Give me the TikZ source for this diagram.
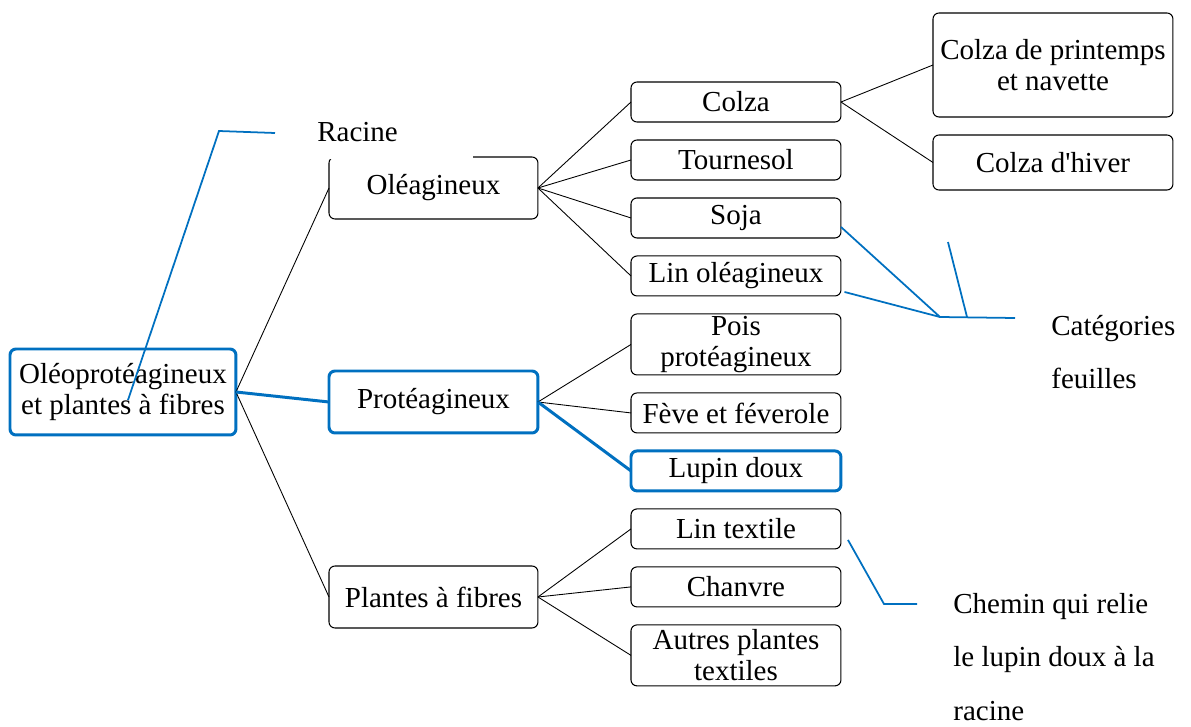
\documentclass[tikz,border=0pt]{standalone}
\usepackage{fontspec}
\setmainfont{Liberation Serif}[Ligatures=TeXOff]
\usetikzlibrary{positioning}
\definecolor{bleu}{RGB}{0,112,192}
\tikzset{
every node/.style={font=\fontsize{16.5}{17.5}\selectfont}, % police de tout le schema
box/.style={draw, rounded corners=0.12cm, line width=0.6pt, minimum width=4.2cm, minimum height=0.8cm, align=center, inner ysep=0pt, inner xsep=2pt, outer sep=0pt},
tall/.style={box, minimum height=1.22cm}, % cases a deux lignes
parent/.style={box, minimum width=4.18cm, minimum height=1.24cm},
sel/.style={draw=bleu, line width=1.7pt}, % cases du chemin
branch/.style={line width=0.5pt},
chemin/.style={bleu, line width=1.7pt},
note/.style={bleu, line width=1pt},
note text/.style={align=left, inner sep=0pt, font=\fontsize{16.5}{30.5}\selectfont},
node distance=0.36cm,
}

\begin{document}
\begin{tikzpicture}[x=0.02cm, y=-0.02cm]
                \useasboundingbox (0,0) rectangle (1191,727);
                % racine et categories
                \node[box, sel, minimum width=4.52cm, minimum height=1.72cm, anchor=north west] (root) at (10,349) {Oléoprotéagineux\\et plantes à fibres};
                \node[parent, anchor=north west] (ole) at (329,157) {Oléagineux};
                \node[parent, sel, anchor=north west] (prot) at (329,371) {Protéagineux};
                \node[parent, anchor=north west] (fib) at (329,566) {Plantes à fibres};
                % feuilles
                \node[box, anchor=north west] (colza) at (631,82) {Colza};
                \node[box, below=of colza] (tourn) {Tournesol};
                \node[box, below=of tourn] (soja) {Soja};
                \node[box, below=of soja] (linole) {Lin oléagineux};
                \node[tall, below=of linole] (pois) {Pois\\protéagineux};
                \node[box, below=of pois] (feve) {Fève et féverole};
                \node[box, sel, below=of feve] (lupin) {Lupin doux};
                \node[box, below=of lupin] (lintex) {Lin textile};
                \node[box, below=of lintex] (chanvre) {Chanvre};
                \node[tall, below=of chanvre] (autres) {Autres plantes\\textiles};
                \node[box, minimum width=4.8cm, minimum height=2.08cm, anchor=north west] (printemps) at (933,13) {Colza de printemps\\et navette};
                \node[box, minimum width=4.8cm, minimum height=1.1cm, anchor=north west] (hiver) at (933,135) {Colza d\textquotesingle hiver};
                \draw[branch]
                    (root.east) edge (ole.west)
                    (root.east) edge (fib.west)
                    (ole.east) edge (colza.west)
                    (ole.east) edge (tourn.west)
                    (ole.east) edge (soja.west)
                    (ole.east) edge (linole.west)
                    (prot.east) edge (pois.west)
                    (prot.east) edge (feve.west)
                    (fib.east) edge (lintex.west)
                    (fib.east) edge (chanvre.west)
                    (fib.east) edge (autres.west)
                    (colza.east) edge (printemps.west)
                    (colza.east) edge (hiver.west)
                    ;
                \draw[chemin] (root.east) -- (prot.west);
                \draw[chemin] (prot.east) -- (lupin.west);
                % legendes
                \node[note text, fill=white, anchor=north west, text width=2.78cm, inner xsep=0.34cm, minimum height=1.08cm] (racine) at (300,105) {Racine};
                \coordinate (rpied) at (128,400);
                \coordinate (rcoude) at (219,131);
                \coordinate (rbout) at (275,133);
                \draw[note] (rpied) -- (rcoude) -- (rbout);
                \coordinate (cj) at (940,317);
                \coordinate (cbout) at (1015,318);
                \coordinate (ctrait) at (948,242);
                \coordinate (cpied) at (967,317);
                \draw[note] ([yshift=0.22cm]soja.south east) -- (cj) -- (cbout);
                \draw[note] ([xshift=2pt, yshift=0.08cm]linole.south east) -- (cj);
                \draw[note] (ctrait) -- (cpied);
                \node[note text, anchor=west] (categ) at (1051,352) {Catégories\\feuilles};
                \coordinate (chcoude) at (884,604);
                \coordinate (chbout) at (917,604);
                \draw[note] ([xshift=0.14cm, yshift=0.18cm]lintex.south east) -- (chcoude) -- (chbout);
                \node[note text, anchor=west] (chem) at (953,657) {Chemin qui relie\\le lupin doux à la\\racine};
                \end{tikzpicture}
\end{document}
